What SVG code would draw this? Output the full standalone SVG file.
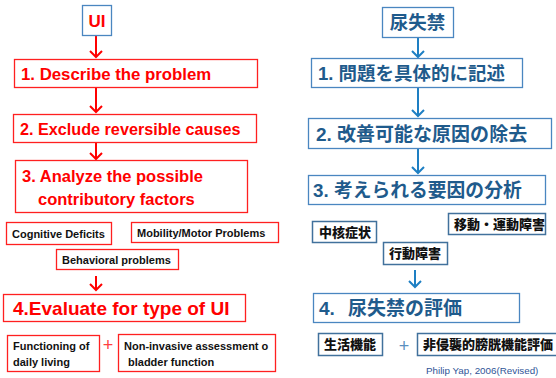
<svg xmlns="http://www.w3.org/2000/svg" width="556" height="378" viewBox="0 0 556 378">
<defs>
<style>
.rb{fill:#fff;stroke:#ff2020;stroke-width:1.3}
.bb{fill:#fff;stroke:#4a86c0;stroke-width:1.3}
.sb{fill:#fff;stroke:#41719c;stroke-width:1.5}
.rt{font-family:"Liberation Sans",Arial,sans-serif;font-weight:bold;fill:#ff0000}
.kt{font-family:"Liberation Sans",Arial,sans-serif;font-weight:bold;fill:#111;font-size:11px}
.jt{font-family:"Liberation Sans","Noto Sans CJK JP",sans-serif;font-weight:bold;fill:#1f5b8c}
.jk{font-family:"Noto Sans CJK JP",sans-serif;font-weight:900;fill:#111;font-size:13px}
.ra{stroke:#ff0000;stroke-width:2;fill:none}
.ba{stroke:#1e7fc3;stroke-width:2;fill:none}
</style>
</defs>
<g id="connectors">
<path class="ra" d="M96 35V57M90 51L96 57L102 51"/>
<path class="ra" d="M96 88V112M90 106L96 112L102 106"/>
<path class="ra" d="M96 143V159M90 153L96 159L102 153"/>
<path class="ra" d="M96 276V290M90 284L96 290L102 284"/>
<path class="ba" d="M418 37V57M412 51L418 57L424 51"/>
<path class="ba" d="M418 87V116M412 110L418 116L424 110"/>
<path class="ba" d="M418 148V173M412 167L418 173L424 167"/>
<path class="ba" d="M415 270V287M409 281L415 287L421 281"/>
</g>
<g id="ui"><rect class="bb" x="82.5" y="5.5" width="29" height="30"/><text class="rt" x="97" y="27" font-size="17" text-anchor="middle">UI</text></g>
<g id="l1"><rect class="rb" x="14.5" y="59.5" width="243" height="28"/><text class="rt" x="21" y="80" font-size="16.8">1. Describe the problem</text></g>
<g id="l2"><rect class="rb" x="13.5" y="114.5" width="243" height="28"/><text class="rt" x="20" y="135" font-size="16.2">2. Exclude reversible causes</text></g>
<g id="l3"><rect class="rb" x="15.5" y="160.5" width="232" height="52"/><text class="rt" x="22" y="182" font-size="16.5">3. Analyze the possible</text><text class="rt" x="38" y="205" font-size="16.5">contributory factors</text></g>
<g id="cog"><rect class="rb" x="6.5" y="222.5" width="105" height="22"/><text class="kt" x="12" y="238">Cognitive Deficits</text></g>
<g id="mob"><rect class="rb" x="131.5" y="222.5" width="147" height="20"/><text class="kt" x="137" y="237" font-size="11.6">Mobility/Motor Problems</text></g>
<g id="beh"><rect class="rb" x="56.5" y="249.5" width="122" height="20"/><text class="kt" x="62" y="264">Behavioral problems</text></g>
<g id="l4"><rect class="rb" x="3.5" y="294.5" width="242" height="27"/><text class="rt" x="13" y="315" font-size="19">4.Evaluate for type of UI</text></g>
<g id="func"><rect class="rb" x="7.5" y="335.5" width="92" height="36"/><text class="kt" x="13" y="350">Functioning of</text><text class="kt" x="13" y="366">daily living</text></g>
<text x="108" y="351" font-family="Liberation Sans,sans-serif" font-size="18" fill="#ff4040" text-anchor="middle">+</text>
<g id="noninv"><rect class="rb" x="118.5" y="334.5" width="157" height="37"/><text class="kt" x="124" y="350">Non-invasive assessment o</text><text class="kt" x="128" y="366">bladder function</text></g>
<g id="nyo"><rect class="bb" x="382.5" y="7.5" width="71" height="30"/><text class="jt" x="417.5" y="29" font-size="18.5" text-anchor="middle">尿失禁</text></g>
<g id="j1"><rect class="bb" x="311.5" y="58.5" width="211" height="29"/><text class="jt" x="318" y="80" font-size="18.5">1. 問題を具体的に記述</text></g>
<g id="j2"><rect class="bb" x="308.5" y="118.5" width="243" height="30"/><text class="jt" x="316" y="140.5" font-size="19">2. 改善可能な原因の除去</text></g>
<g id="j3"><rect class="bb" x="308.5" y="175.5" width="237" height="29"/><text class="jt" x="313" y="197" font-size="18.8">3. 考えられる要因の分析</text></g>
<g id="chu"><rect class="sb" x="312.5" y="221.5" width="64" height="21"/><text class="jk" x="319" y="236.5">中核症状</text></g>
<g id="ido"><rect class="sb" x="448.5" y="213.5" width="97" height="21"/><text class="jk" x="454" y="228.5">移動・運動障害</text></g>
<g id="kodo"><rect class="sb" x="383.5" y="242.5" width="64" height="22"/><text class="jk" x="389" y="258">行動障害</text></g>
<g id="j4"><rect class="bb" x="313.5" y="293.5" width="206" height="29"/><text class="jt" x="319" y="315" font-size="19">4.</text><text class="jt" x="348" y="315" font-size="19">尿失禁の評価</text></g>
<g id="seikatsu"><rect class="sb" x="318.5" y="333.5" width="64" height="22"/><text class="jk" x="324" y="349">生活機能</text></g>
<text x="404" y="352" font-family="Liberation Sans,sans-serif" font-size="18" fill="#5b8fc0" text-anchor="middle">+</text>
<g id="hishin"><rect class="sb" x="417.5" y="333.5" width="140" height="22"/><text class="jk" x="423" y="349">非侵襲的膀胱機能評価</text></g>
<text x="426" y="374" font-family="Liberation Sans,sans-serif" font-size="9.8" fill="#2f5597">Philip Yap,  2006(Revised)</text>
</svg>
